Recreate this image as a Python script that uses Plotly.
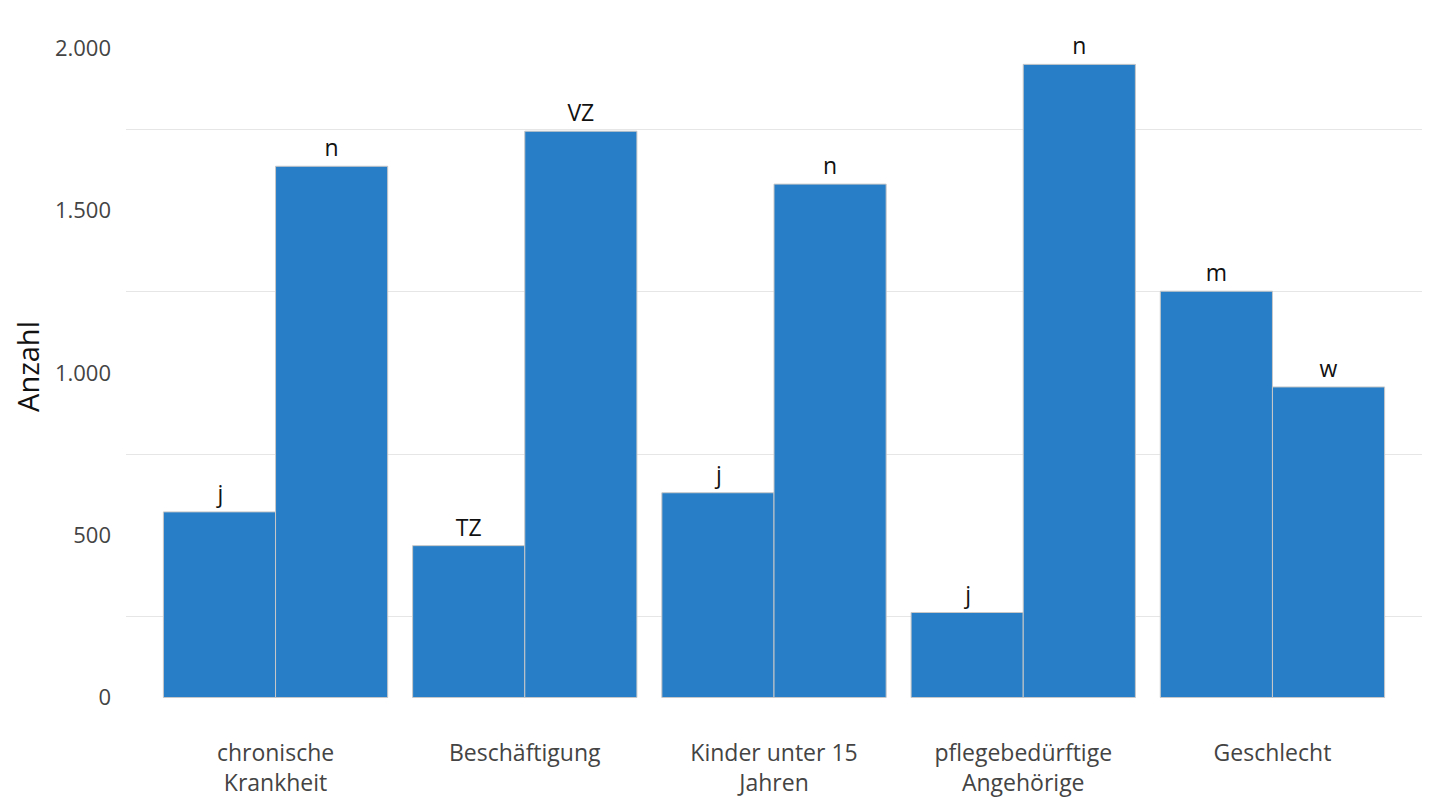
import plotly.graph_objects as go

categories = ["chronische<br>Krankheit", "Beschäftigung", "Kinder unter 15<br>Jahren",
              "pflegebedürftige<br>Angehörige", "Geschlecht"]
first_labels = ["j", "TZ", "j", "j", "m"]
first_values = [572, 468, 631, 262, 1252]
second_labels = ["n", "VZ", "n", "n", "w"]
second_values = [1637, 1745, 1582, 1951, 957]

bar_color = "#287FC7"
fig = go.Figure()
for vals, labs in [(first_values, first_labels), (second_values, second_labels)]:
    fig.add_trace(go.Bar(
        x=list(range(len(categories))), y=vals, text=labs,
        textposition="outside", cliponaxis=False, constraintext="none",
        textfont=dict(family="Open Sans", size=23, color="#111"),
        marker=dict(color=bar_color, line=dict(color="#c8c8c8", width=1)),
        showlegend=False, hoverinfo="skip"))

fig.update_layout(
    barmode="group", bargap=0.1, bargroupgap=0,
    width=1440, height=809,
    margin=dict(l=126, r=18, t=15.5, b=91.5),
    paper_bgcolor="white", plot_bgcolor="white",
    separators=",.",
    font=dict(family="Open Sans", color="#444"),
)
fig.update_xaxes(
    tickvals=list(range(len(categories))), ticktext=categories,
    range=[-0.6, 4.6], showgrid=False, zeroline=False, showline=False,
    tickfont=dict(size=23, color="#444"), ticks="", ticklabelstandoff=20,
)
fig.update_yaxes(
    range=[-60, 2100], tickvals=[0, 500, 1000, 1500, 2000], tickformat=",d",
    showgrid=False, zeroline=False, showline=False,
    minor=dict(tickvals=[250, 750, 1250, 1750], showgrid=True, gridcolor="#e6e6e6", gridwidth=1),
    tickfont=dict(size=22, color="#444"), ticks="", ticklabelstandoff=14,
    title=dict(text="Anzahl", font=dict(size=29, color="#111"), standoff=6),
)
fig.write_html("out.html")
